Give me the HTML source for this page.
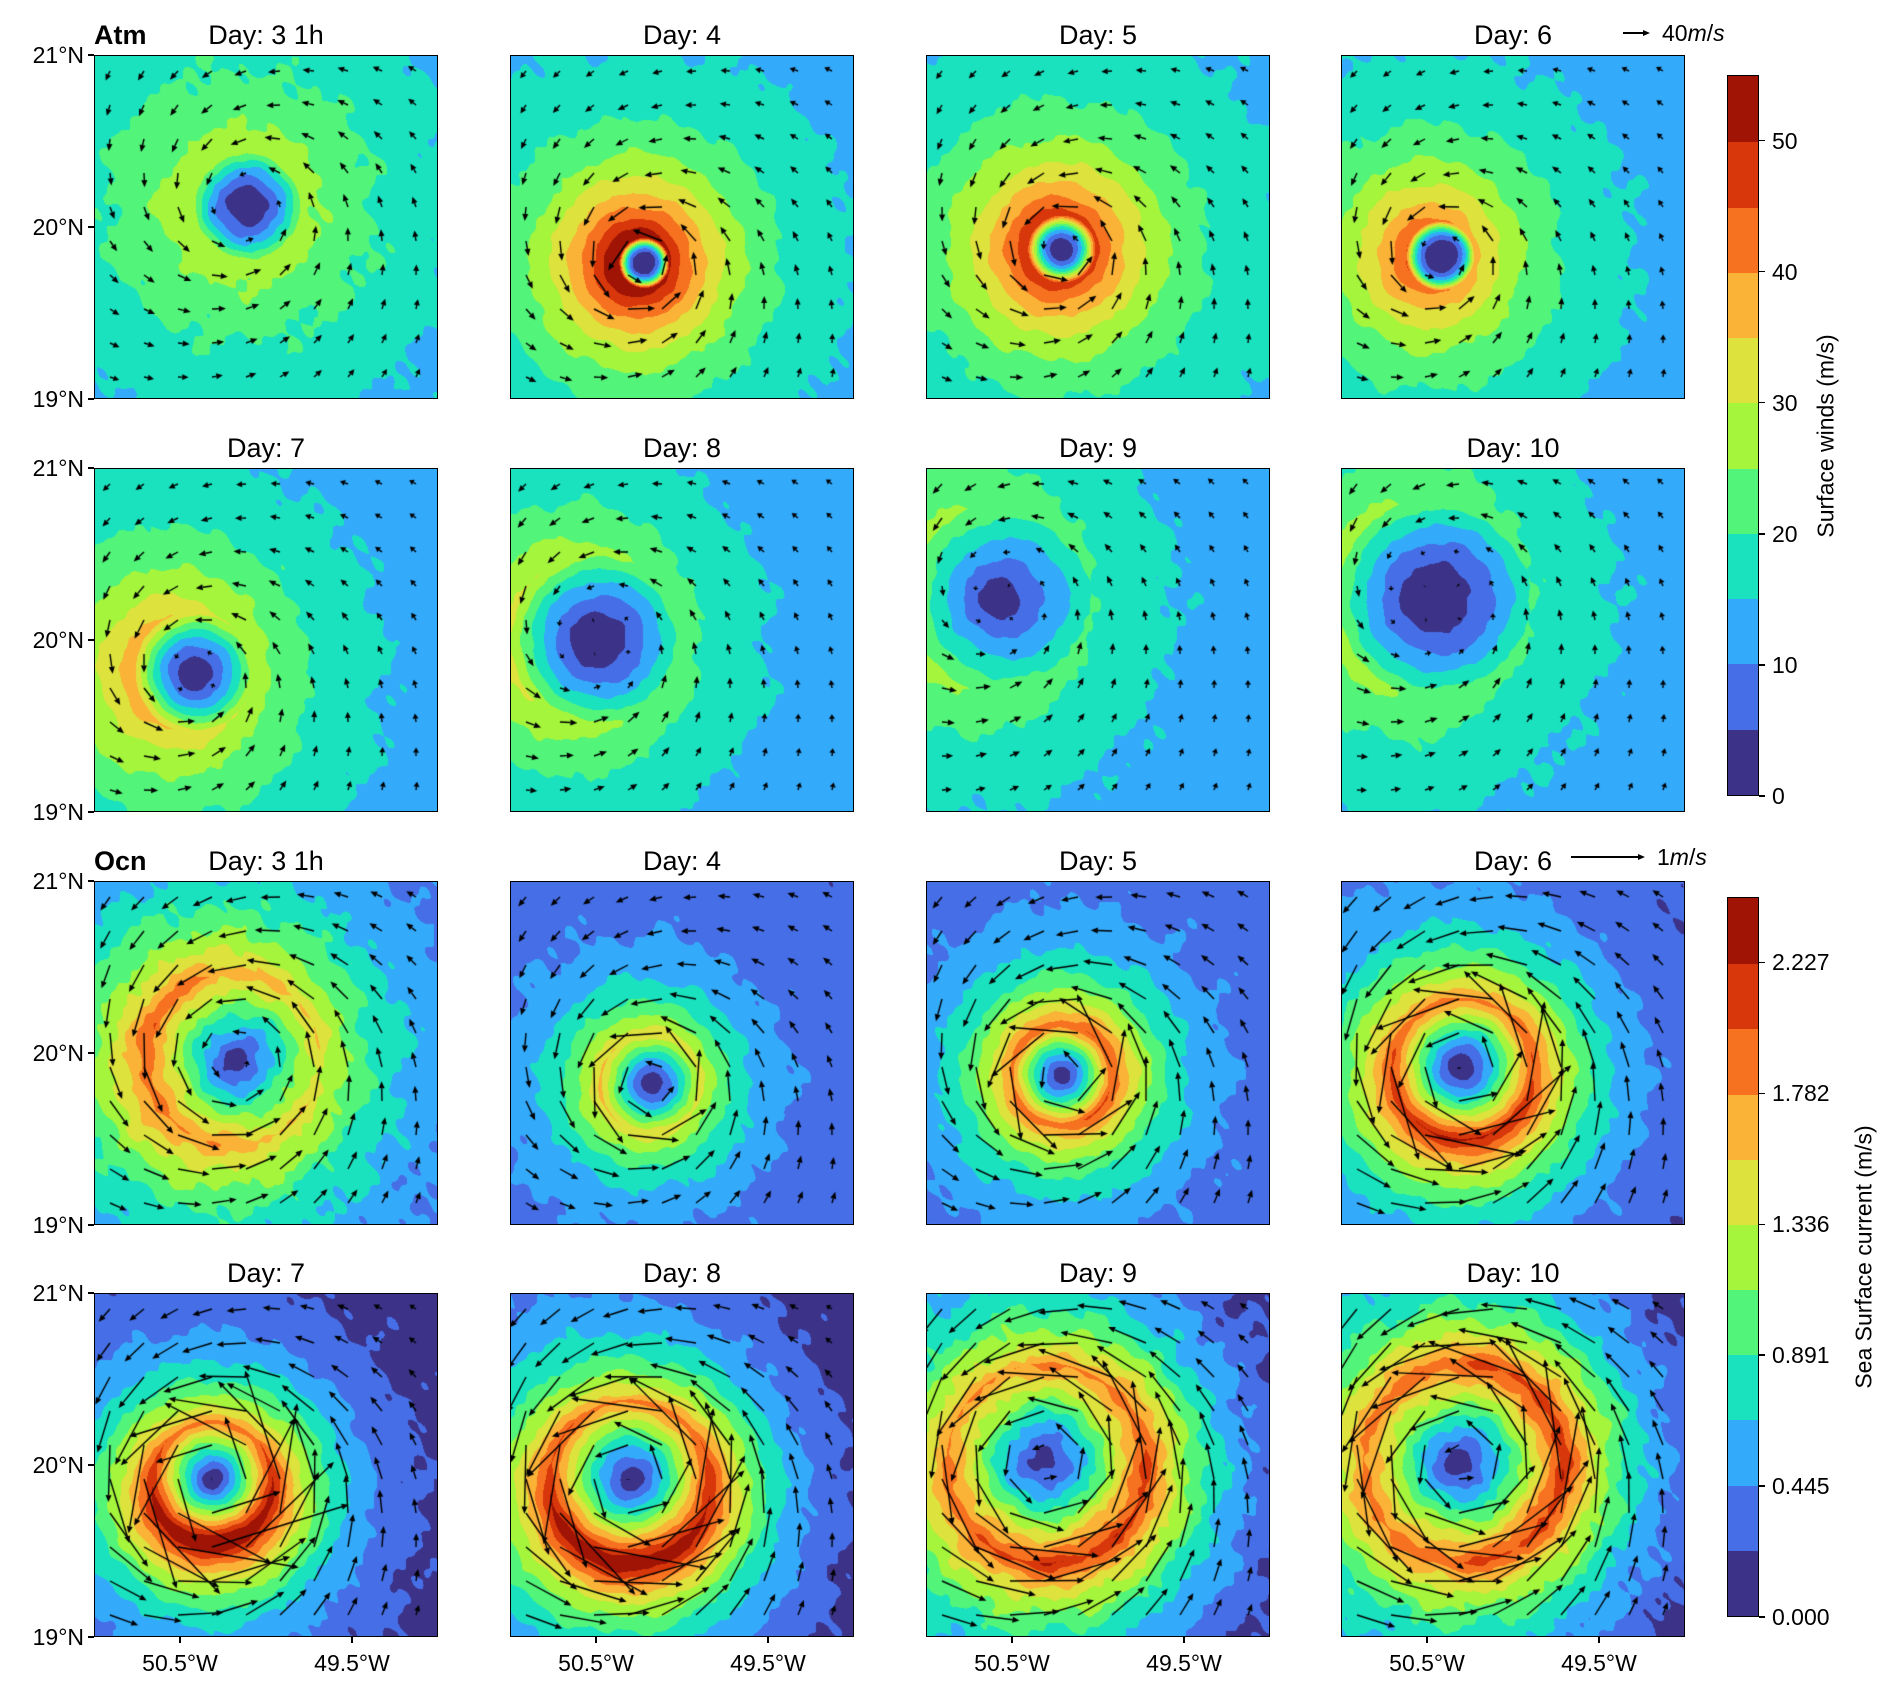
<!DOCTYPE html>
<html><head><meta charset="utf-8">
<style>
html,body{margin:0;padding:0;background:#fff;}
#fig{position:relative;width:1892px;height:1693px;overflow:hidden;font-family:"Liberation Sans","DejaVu Sans",sans-serif;color:#000;}
.panel{position:absolute;width:344px;height:344px;border:1.5px solid #000;box-sizing:border-box;overflow:hidden;}
.panel canvas{position:absolute;left:0;top:0;}
.t{position:absolute;font-size:27px;white-space:nowrap;line-height:1;}
.tick{position:absolute;font-size:23px;white-space:nowrap;line-height:1;}
.tm{position:absolute;background:#000;}
.cb{position:absolute;border:1.5px solid #000;box-sizing:border-box;}
</style></head>
<body>
<div id="fig"></div>
<script>
// ---- data: atmospheric panels (surface winds, m/s) ----
const atmTitles=["Day: 3 1h","Day: 4","Day: 5","Day: 6","Day: 7","Day: 8","Day: 9","Day: 10"];
const atmLon=[-50.12,-50.23,-50.22,-50.43,-50.43,-50.51,-50.59,-50.48];
const atmLat=[20.13,19.80,19.88,19.84,19.82,20.01,20.25,20.25];
const atmVmax=[28,55,48,41,33,27,24,24];
const atmRmax=[0.32,0.15,0.20,0.20,0.35,0.50,0.55,0.58];
const atmDecay=[0.8,0.40,0.42,0.45,0.55,0.50,0.60,0.60];
const atmBg=[10,12.5,13,12,11,11,11,11];
const atmInner=[1.7,3.0,2.1,2.9,1.5,1.5,1.0,1.5];
const atmAsym=[0.05,0.1,0.05,0.15,0.25,0.3,0.3,0.3];
const atmAsymDir=[180,180,180,180,180,180,180,180];
// ---- data: ocean panels (sea surface current, m/s) ----
const ocnTitles=["Day: 3 1h","Day: 4","Day: 5","Day: 6","Day: 7","Day: 8","Day: 9","Day: 10"];
const ocnLon=[-50.19,-50.19,-50.22,-50.30,-50.32,-50.31,-50.31,-50.30];
const ocnLat=[19.97,19.83,19.88,19.92,19.92,19.92,20.02,20.02];
const ocnVmax=[1.7,1.5,1.95,2.05,2.2,2.15,1.95,2.0];
const ocnRmax=[0.5,0.29,0.29,0.41,0.35,0.47,0.58,0.58];
const ocnDecay=[0.45,0.28,0.30,0.33,0.33,0.33,0.38,0.38];
const ocnBgWest=[0.3,0.3,0.3,0.3,0.15,0.3,0.3,0.3];
const ocnBgEast=[0.28,0.28,0.28,0.2,0.08,0.05,0.02,0.02];
const ocnInner=[1.0,1.2,1.3,1.3,1.2,1.2,1.1,1.1];
const ocnAsym=[0.2,0.1,0.05,0.15,0.25,0.25,0.15,0.1];
const ocnAsymDir=[180,180,0,270,270,270,300,0];
const ocnQuiverFactor=[0.35,0.5,0.55,0.65,0.8,0.7,0.65,0.75];
// ---- colorbar ticks ----
const atmTicks=[0,10,20,30,40,50];
const ocnStep=0.2227;
const ocnTicks=["0.000","0.445","0.891","1.336","1.782","2.227"];
const latTicks=[21,20,19];
const lonTicks=[-50.5,-49.5];
const bandColors=["#3c3389","#466ee6","#34aafa","#1ae2bf","#52f47a","#a4f53c","#dde23c","#fab237","#f67220","#d7370a","#a01405"];

const fig=document.getElementById('fig');
const colX=[94,510,926,1341], rowY=[55,468,881,1293], P=344;
const lon0=-51, lat0=21, deg=172;
function xOfLon(l){return (l-lon0)*deg;}
function yOfLat(l){return (lat0-l)*deg;}
const rgb=bandColors.map(h=>[parseInt(h.slice(1,3),16),parseInt(h.slice(3,5),16),parseInt(h.slice(5,7),16)]);

function mk(tag,cls,name,css,txt){const e=document.createElement(tag);if(cls)e.className=cls;
 
 
 if(css)e.style.cssText=css;if(txt!==undefined)e.innerHTML=txt;fig.appendChild(e);return e;}

function noise(x,y,s){return (Math.sin(x*.071+s)*Math.cos(y*.063+2*s)+0.6*Math.sin((x+y)*.131+3*s)+0.4*Math.sin((x-y)*.19+5*s)+0.3*Math.sin(x*.33-y*.27+s*7))/2.3;}

function speed(p,x,y){
 const lon=lon0+x/deg, lat=lat0-y/deg;
 const dx=lon-p.lon, dy=lat-p.lat, r=Math.hypot(dx,dy);
 const th=Math.atan2(dy,dx);
 const a=1+p.A*Math.cos(th-p.phi*Math.PI/180);
 const bg=p.bgW+(p.bgE-p.bgW)*(x/P);
 if(r<p.rm){return Math.max(0,p.vmax*Math.pow(r/p.rm,p.b)*(1+0.5*(a-1)));}
 return bg+(p.vmax-bg)*Math.exp(-(r-p.rm)/p.L)*a;
}

function drawPanel(p,idx,left,top,kind){
 const div=mk('div','panel',kind+'-panel-'+(idx+1),'left:'+left+'px;top:'+top+'px;');
 const cv=document.createElement('canvas');
 
 
 cv.width=P;cv.height=P;div.appendChild(cv);
 const ctx=cv.getContext('2d');const img=ctx.createImageData(P,P);
 for(let y=0;y<P;y++)for(let x=0;x<P;x++){
  let v=speed(p,x,y)+p.noise*noise(x,y,idx*1.7+(kind==='ocn'?11:0));
  let k=Math.floor(v/p.step);if(k<0)k=0;if(k>10)k=10;
  const c=rgb[k],o=(y*P+x)*4;img.data[o]=c[0];img.data[o+1]=c[1];img.data[o+2]=c[2];img.data[o+3]=255;}
 ctx.putImageData(img,0,0);
 ctx.fillStyle='#000';ctx.strokeStyle='#000';
 const cxs=xOfLon(p.lon), cys=yOfLat(p.lat), al=p.alpha;
 for(let j=0;j<10;j++)for(let i=0;i<10;i++){
  const gx=15+34*i, gy=15+34*j;
  const dxs=gx-cxs, dys=gy-cys, r=Math.hypot(dxs,dys)||1;
  const tx=dys/r, ty=-dxs/r, ix=-dxs/r, iy=-dys/r;
  let ux=Math.cos(al)*tx+Math.sin(al)*ix, uy=Math.cos(al)*ty+Math.sin(al)*iy;
  const len=Math.max(0,speed(p,gx,gy))*p.qs;
  const hl=Math.min(7,len*0.6), hw=3;
  const ex=gx+ux*len, ey=gy+uy*len, bx=ex-ux*hl, by=ey-uy*hl;
  ctx.lineWidth=1.4;ctx.beginPath();ctx.moveTo(gx,gy);ctx.lineTo(bx,by);ctx.stroke();
  ctx.beginPath();ctx.moveTo(ex,ey);ctx.lineTo(bx-uy*hw,by+ux*hw);ctx.lineTo(bx+uy*hw,by-ux*hw);ctx.closePath();ctx.fill();
 }
}

for(let i=0;i<8;i++){
 const c=i%4, r=Math.floor(i/4);
 drawPanel({lon:atmLon[i],lat:atmLat[i],vmax:atmVmax[i],rm:atmRmax[i],L:atmDecay[i],bgW:atmBg[i],bgE:atmBg[i],b:atmInner[i],A:atmAsym[i],phi:atmAsymDir[i],step:5,noise:(i===0?2.2:1.3),alpha:0.35,qs:0.62},i,colX[c],rowY[r],'atm');
 mk('div','t','atm-title-'+(i+1),'left:'+(colX[c]+P/2)+'px;top:'+(rowY[r]-33)+'px;transform:translateX(-50%);',atmTitles[i]);
}
for(let i=0;i<8;i++){
 const c=i%4, r=2+Math.floor(i/4);
 drawPanel({lon:ocnLon[i],lat:ocnLat[i],vmax:ocnVmax[i],rm:ocnRmax[i],L:ocnDecay[i],bgW:ocnBgWest[i],bgE:ocnBgEast[i],b:ocnInner[i],A:ocnAsym[i],phi:ocnAsymDir[i],step:ocnStep,noise:(i===0||i>=6?0.16:0.09),alpha:0.3,qs:74*ocnQuiverFactor[i]},i,colX[c],rowY[r],'ocn');
 mk('div','t','ocn-title-'+(i+1),'left:'+(colX[c]+P/2)+'px;top:'+(rowY[r]-33)+'px;transform:translateX(-50%);',ocnTitles[i]);
}
mk('div','t','atm-label','left:94px;top:22px;font-weight:bold;','Atm');
mk('div','t','ocn-label','left:94px;top:848px;font-weight:bold;','Ocn');

for(let r=0;r<4;r++){latTicks.forEach(l=>{const y=rowY[r]+yOfLat(l);
 mk('div','tm','lat-tick-mark','left:88px;top:'+(y-0.75)+'px;width:6px;height:1.5px;');
 mk('div','tick','lat-tick-label','right:'+(1892-84)+'px;top:'+(y-11)+'px;',l+'°N');});}
for(let c=0;c<4;c++){lonTicks.forEach(l=>{const x=colX[c]+xOfLon(l);
 mk('div','tm','lon-tick-mark','left:'+(x-0.75)+'px;top:1637px;width:1.5px;height:6px;');
 mk('div','tick','lon-tick-label','left:'+x+'px;top:1652px;transform:translateX(-50%);',Math.abs(l)+'°W');});}

function colorbar(top,h,name,ticks,tickPos,label,lx){
 const cb=mk('div','cb',name,'left:1727px;top:'+top+'px;width:32px;height:'+h+'px;');
 for(let k=0;k<11;k++){const d=document.createElement('div');
  
  
  d.style.cssText='position:absolute;left:0;right:0;bottom:'+(k*(h-3)/11)+'px;height:'+((h-3)/11+0.6)+'px;background:'+bandColors[k];cb.appendChild(d);}
 ticks.forEach((t,i)=>{const y=top+h-tickPos[i]*h;
  mk('div','tm',name+'-tick','left:1759px;top:'+(y-0.75)+'px;width:6px;height:1.5px;');
  mk('div','tick',name+'-tick-label','left:1772px;top:'+(y-11)+'px;',t);});
 mk('div','tick',name+'-title','left:'+lx+'px;top:'+(top+h/2)+'px;transform:translate(-50%,-50%) rotate(-90deg);',label);
}
colorbar(75,721,'atm-colorbar',atmTicks,atmTicks.map(t=>t/55),'Surface winds (m/s)',1826);
colorbar(897,720,'ocn-colorbar',ocnTicks,ocnTicks.map((t,i)=>2*i/11),'Sea Surface current (m/s)',1864);

function key(x1,x2,y,label,name){
 mk('div','tm',name+'-arrow','left:'+x1+'px;top:'+(y-0.7)+'px;width:'+(x2-x1-6)+'px;height:1.4px;');
 mk('div','',name+'-head','position:absolute;left:'+(x2-7)+'px;top:'+(y-3)+'px;width:0;height:0;border-left:7px solid #000;border-top:3px solid transparent;border-bottom:3px solid transparent;');
 mk('div','tick',name+'-label','left:'+(x2+12)+'px;top:'+(y-11)+'px;',label);
}
key(1623,1650,33,'40<i>m</i>/<i>s</i>','atm-quiver-key');
key(1571,1645,857,'1<i>m</i>/<i>s</i>','ocn-quiver-key');
</script>
</body></html>
